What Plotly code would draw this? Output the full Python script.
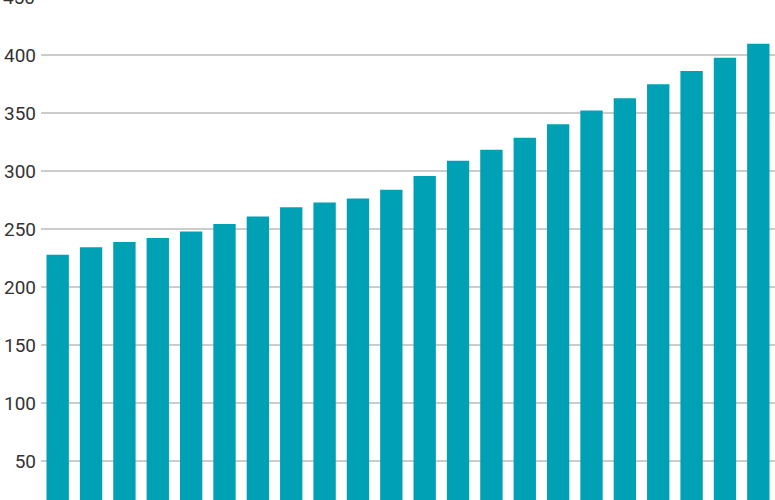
import plotly.graph_objects as go

# bar heights, left to right
categories = [str(i) for i in range(1, 23)]
values = [228, 234.5, 239, 242.5, 248, 254.5, 261, 269, 273, 276.5, 284,
          296, 309, 318.5, 329, 340.5, 352.5, 363, 375, 386.5, 398, 410]
tick_vals = [50, 100, 150, 200, 250, 300, 350, 400]
top_tick = 450
y_range = [16.6, 447.7]

bar_color = "#00a1b5"
text_color = "#333333"

fig = go.Figure()
fig.add_trace(go.Bar(x=categories, y=values, marker_color=bar_color,
                     marker_line_width=0))

fig.update_layout(
    width=775, height=500,
    margin=dict(l=41, r=0, t=0, b=0),
    paper_bgcolor="white", plot_bgcolor="white",
    bargap=0.33,
    showlegend=False,
    font=dict(family="Roboto", size=19, color=text_color),
)
fig.update_xaxes(showticklabels=False, showgrid=False, zeroline=False,
                 showline=False)
fig.update_yaxes(range=y_range, tickvals=tick_vals,
                 showgrid=True, gridcolor="#cccccc", gridwidth=1.5,
                 zeroline=False, showline=False, ticks="",
                 ticklabelstandoff=4)

# the 450 label sits just above the top edge, only its lower half shows
top_pos = (top_tick - y_range[0]) / (y_range[1] - y_range[0])
fig.add_annotation(x=0, xref="paper", y=top_pos, yref="paper",
                   text=str(top_tick), showarrow=False,
                   xanchor="right", yanchor="middle", xshift=-4,
                   font=dict(family="Roboto", size=19, color=text_color))

# no page margin round the figure
fig.write_html("out.html", config={"displayModeBar": False},
               post_script="document.body.style.margin='0';")
